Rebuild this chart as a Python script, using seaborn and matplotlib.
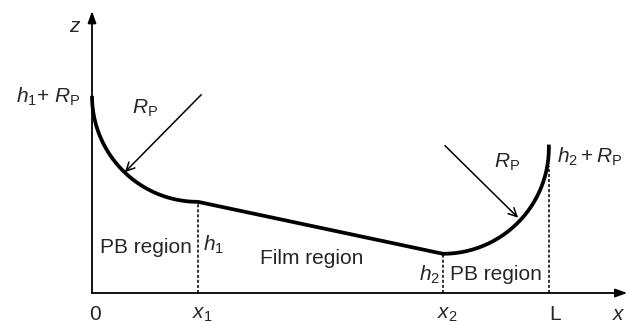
import numpy as np
import pandas as pd
import matplotlib
matplotlib.use("Agg")
import matplotlib.pyplot as plt
import seaborn as sns

# ---- schematic parameters (units of the Plateau-border radius) ----
x1 = 1.00
x2 = 3.31
L = 4.31
h1 = 0.86
h2 = 0.37
Rp = 1.00
tick_pos = [0.0, x1, x2, L]
tick_labels = ["0", r"$x_1$", r"$x_2$", "L"]

sns.set_style("white")
plt.rcParams["font.family"] = ["Liberation Sans", "DejaVu Sans"]
plt.rcParams["mathtext.fontset"] = "custom"
plt.rcParams["mathtext.rm"] = "Liberation Sans"
plt.rcParams["mathtext.it"] = "Liberation Sans:italic"
plt.rcParams["mathtext.bf"] = "Liberation Sans:bold"

# profile: left circular PB, straight film, right circular PB
t1 = np.linspace(np.pi, 1.5 * np.pi, 60)
left_x = x1 + Rp * np.cos(t1)
left_z = (h1 + Rp) + Rp * np.sin(t1)
film_x = np.array([x1, x2])
film_z = np.array([h1, h2])
t2 = np.linspace(1.5 * np.pi, 2.0 * np.pi, 60)
right_x = x2 + Rp * np.cos(t2)
right_z = (h2 + Rp) + Rp * np.sin(t2)
prof = pd.DataFrame({
    "x": np.concatenate([left_x, film_x, right_x, [L]]),
    "z": np.concatenate([left_z, film_z, right_z, [h2 + Rp + 0.03]]),
})

fig = plt.figure(figsize=(6.27, 3.24), dpi=100)
ax = fig.add_axes([0, 0, 1, 1])
ppu = 106.0
ax.set_xlim(-92 / ppu, (627 - 92) / ppu)
ax.set_ylim((293 - 324) / ppu, 293 / ppu)
ax.axis("off")

sns.lineplot(data=prof, x="x", y="z", sort=False, estimator=None,
             color="black", linewidth=2.7, ax=ax, solid_capstyle="butt")

# axes with arrows
ax.annotate("", xy=(0, 2.66), xytext=(0, 0),
            arrowprops=dict(arrowstyle="-|>,head_length=0.7,head_width=0.25",
                            color="black", lw=1.3, shrinkA=0, shrinkB=0))
ax.annotate("", xy=(5.05, 0), xytext=(0, 0),
            arrowprops=dict(arrowstyle="-|>,head_length=0.7,head_width=0.25",
                            color="black", lw=1.3, shrinkA=0, shrinkB=0))

# dotted verticals
dot = dict(color="black", lw=1.1, linestyle=(0, (2.0, 1.3)))
ax.plot([x1, x1], [0, h1], **dot)
ax.plot([x2, x2], [0, h2], **dot)
ax.plot([L, L], [0, 1.2], **dot)

# radius arrows
ax.annotate("", xy=(0.31, 1.14), xytext=(1.03, 1.87),
            arrowprops=dict(arrowstyle="->,head_length=0.6,head_width=0.3",
                            color="black", lw=1.1, shrinkA=0, shrinkB=0))
ax.annotate("", xy=(4.02, 0.71), xytext=(3.33, 1.39),
            arrowprops=dict(arrowstyle="->,head_length=0.6,head_width=0.3",
                            color="black", lw=1.1, shrinkA=0, shrinkB=0))

fs = 15
ax.text(-0.16, 2.51, r"$z$", fontsize=fs, ha="center", va="center")
ax.text(-0.11, 1.85, r"$h_1$+ $R_{\rm P}$", fontsize=fs, ha="right", va="center")
ax.text(0.50, 1.745, r"$R_{\rm P}$", fontsize=fs, ha="center", va="center")
ax.text(0.51, 0.425, "PB region", fontsize=fs, ha="center", va="center")
ax.text(1.05, 0.45, r"$h_1$", fontsize=fs, ha="left", va="center")
ax.text(2.075, 0.33, "Film region", fontsize=fs, ha="center", va="center")
ax.text(3.28, 0.17, r"$h_2$", fontsize=fs, ha="right", va="center")
ax.text(3.81, 0.17, "PB region", fontsize=fs, ha="center", va="center")
ax.text(3.915, 1.236, r"$R_{\rm P}$", fontsize=fs, ha="center", va="center")
ax.text(4.39, 1.28, r"$h_2+R_{\rm P}$", fontsize=fs, ha="left", va="center")

offs = [0.03, 0.04, 0.04, 0.06]
for p, lab, o in zip(tick_pos, tick_labels, offs):
    ax.text(p + o, -0.20, lab, fontsize=fs, ha="center", va="center")
ax.text(5.04, -0.20, r"$x$", fontsize=fs, ha="right", va="center")

fig.savefig("out.png", dpi=100)
